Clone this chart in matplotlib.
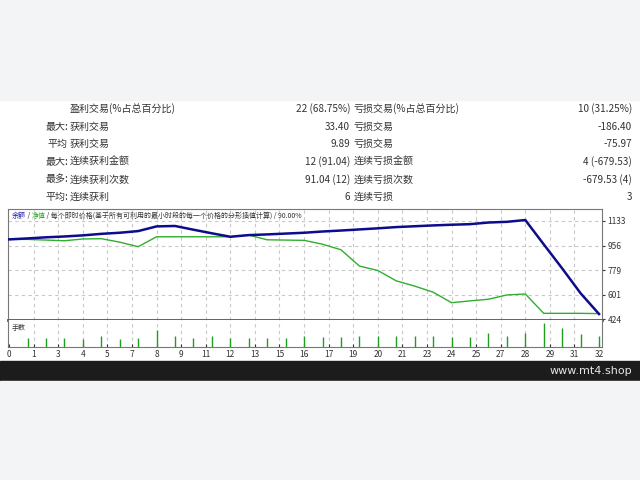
import matplotlib
matplotlib.use("Agg")
import matplotlib.pyplot as plt
from matplotlib.patches import Rectangle

plt.rcParams['font.family'] = ['Noto Sans CJK SC', 'DejaVu Sans']

# stats table
row_heads = ['', '最大:', '平均', '最大:', '最多:', '平均:']
win_labels = ['盈利交易(%占总百分比)', '获利交易', '获利交易', '连续获利金额', '连续获利次数', '连续获利']
win_values = ['22 (68.75%)', '33.40', '9.89', '12 (91.04)', '91.04 (12)', '6']
loss_labels = ['亏损交易(%占总百分比)', '亏损交易', '亏损交易', '连续亏损金额', '连续亏损次数', '连续亏损']
loss_values = ['10 (31.25%)', '-186.40', '-75.97', '4 (-679.53)', '-679.53 (4)', '3']

# balance / equity per trade
trades = list(range(33))
balance = [1000, 1007, 1015, 1021, 1029, 1040, 1048, 1060, 1094, 1097, 1070,
           1044, 1019, 1031, 1036, 1042, 1048, 1057, 1064, 1072, 1080, 1089,
           1095, 1101, 1106, 1110, 1122, 1127, 1140, 964, 790, 610, 460]
equity = [1000, 1000, 995, 990, 1003, 1005, 980, 947, 1019, 1019, 1019,
          1019, 1019, 1031, 997, 995, 993, 965, 925, 807, 775, 700,
          662, 618, 542, 555, 567, 598, 605, 465, 465, 465, 463]
lots = [0.03, 0.03, 0.03, 0.027, 0.04, 0.027, 0.03, 0.06, 0.04, 0.03, 0.04,
        0.03, 0.03, 0.03, 0.03, 0.04, 0.034, 0.034, 0.037, 0.037, 0.037, 0.037,
        0.037, 0.035, 0.035, 0.048, 0.037, 0.048, 0.085, 0.066, 0.044, 0.037]

y_ticks = [424, 601.25, 778.5, 955.75, 1133]
y_labels = ['424', '601', '779', '956', '1133']
x_labels = ['0', '1', '3', '4', '5', '7', '8', '9', '11', '12', '13', '15', '16',
            '17', '19', '20', '21', '23', '24', '25', '27', '28', '29', '31', '32']

W, H = 640, 480
fig = plt.figure(figsize=(6.4, 4.8), dpi=100)
fig.patch.set_facecolor('white')

# background in pixel coordinates
bg = fig.add_axes([0, 0, 1, 1], zorder=-1)
bg.set_xlim(0, W)
bg.set_ylim(H, 0)
bg.axis('off')
bg.add_patch(Rectangle((0, 0), W, 100, color='#f3f4f6'))
bg.add_patch(Rectangle((0, 361), W, 20, color='#1c1c1c'))
bg.add_patch(Rectangle((0, 381), W, 99, color='#f3f4f6'))
bg.text(632, 371, 'www.mt4.shop', color='#e6e6e6', fontsize=8,
        ha='right', va='center', family='DejaVu Sans')

txt = dict(fontsize=7.2, color='#333333', va='center')
for r in range(len(row_heads)):
    y = 109 + 17.6 * r
    bg.text(68, y, row_heads[r], ha='right', **txt)
    bg.text(70, y, win_labels[r], ha='left', **txt)
    bg.text(350, y, win_values[r], ha='right', **txt)
    bg.text(354, y, loss_labels[r], ha='left', **txt)
    bg.text(632, y, loss_values[r], ha='right', **txt)

def px_axes(x0, y0, x1, y1):
    return fig.add_axes([x0 / W, 1 - y1 / H, (x1 - x0) / W, (y1 - y0) / H])

xlim = (-0.06, 32.16)
grid_x = [k * 4 / 3 for k in range(25)]
grid_kw = dict(color='#c8c8c8', lw=0.8, ls=(0, (3, 3)), zorder=0)

ax = px_axes(8, 209, 602, 320)
ax.plot(trades, equity, color='#2fae2f', lw=1.0, zorder=3)
ax.plot(trades, balance, color='#0c0c8c', lw=1.8, zorder=4)
ax.set_xlim(*xlim)
ax.set_ylim(416.8, 1219.8)
for gx in grid_x[1:-1]:
    ax.axvline(gx, **grid_kw)
for gy in y_ticks[1:]:
    ax.axhline(gy, **grid_kw)
ax.set_xticks([])
ax.yaxis.tick_right()
ax.set_yticks(y_ticks)
ax.set_yticklabels(y_labels)
ax.tick_params(axis='y', labelsize=6, length=2, pad=2, colors='#333333')
for s in ax.spines.values():
    s.set_color('#777777')
    s.set_linewidth(0.8)
ax.spines['bottom'].set_color('#555555')
ax.spines['bottom'].set_linewidth(2)

# coloured legend header
t1 = ax.text(0.006, 0.975, '余额', transform=ax.transAxes, fontsize=5,
             color='#1c1ca0', ha='left', va='top')
t2 = ax.annotate(' / ', xy=(1, 0), xycoords=t1, fontsize=5, color='#333333', va='bottom')
t3 = ax.annotate('净值', xy=(1, 0), xycoords=t2, fontsize=5, color='#22aa22', va='bottom')
ax.annotate(' / 每个即时价格(基于所有可利用的最小时段的每一个价格的分形插值计算) / 90.00%',
            xy=(1, 0), xycoords=t3, fontsize=5, color='#333333', va='bottom')

vax = px_axes(8, 320, 602, 347)
vax.vlines(trades[1:], 0, lots, color='#1f9e1f', lw=1.0, zorder=3)
vax.set_xlim(*xlim)
vax.set_ylim(0, 0.094)
for gx in grid_x[1:-1]:
    vax.axvline(gx, **grid_kw)
vax.set_yticks([])
vax.set_xticks(grid_x)
vax.set_xticklabels(x_labels)
vax.tick_params(axis='x', labelsize=6, length=2, pad=2, direction='in', colors='#333333')
for s in vax.spines.values():
    s.set_color('#777777')
    s.set_linewidth(0.8)
vax.spines['top'].set_visible(False)
vax.text(0.006, 0.85, '手数', transform=vax.transAxes, fontsize=5,
         color='#333333', ha='left', va='top')

fig.savefig('out.png', dpi=100)
